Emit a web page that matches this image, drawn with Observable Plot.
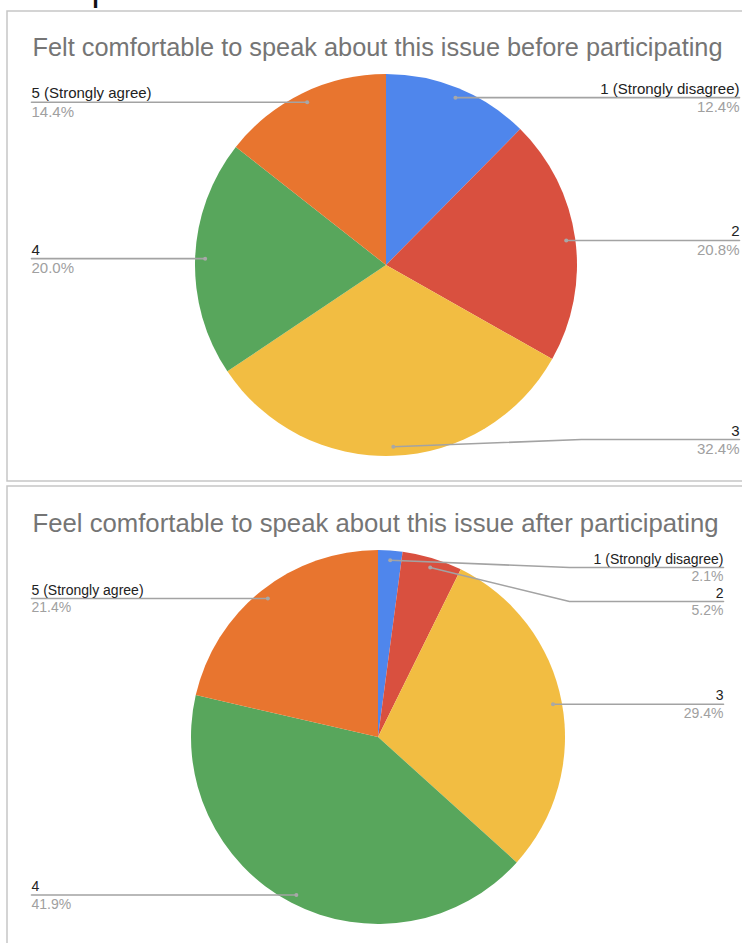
<!DOCTYPE html>
<html><head><meta charset="utf-8">
<script src="https://cdn.jsdelivr.net/npm/d3@7"></script>
<script src="https://cdn.jsdelivr.net/npm/@observablehq/plot@0.6"></script>
<style>html,body{margin:0;padding:0;background:#fff;overflow:hidden} svg{display:block}</style>
</head><body><div id="chart"></div>
<script>
// ---- data ----
const categories = ["1 (Strongly disagree)", "2", "3", "4", "5 (Strongly agree)"];
const beforeValues = [12.4, 20.8, 32.4, 20.0, 14.4];
const afterValues = [2.1, 5.2, 29.4, 41.9, 21.4];
const sliceColors = ["#4f86ec", "#d9503f", "#f2bd42", "#58a65c", "#e8752f"];
const panelTitles = [
  "Felt comfortable to speak about this issue before participating",
  "Feel comfortable to speak about this issue after participating"
];

// ---- layout ----
const W = 742, H = 943;
const panels = [
  {title: panelTitles[0], values: beforeValues, cx: 386, cy: 265, r: 191, top: 11, bottom: 481,
   titleY: 55, titleW: 690, labelL: 31, labelR: 739, minY: 90, maxY: 439, fs: 15},
  {title: panelTitles[1], values: afterValues, cx: 378, cy: 737, r: 187, top: 486, bottom: 950,
   titleY: 531, titleW: 686, labelL: 31, labelR: 723, minY: 567, maxY: 900, fs: 14}
];

const slices = [], labels = [], leaders = [];
panels.forEach((p, pi) => {
  const arcs = d3.pie().sort(null).value(d => d)(p.values);
  const side = {left: [], right: []};
  arcs.forEach((a, i) => {
    const mid = (a.startAngle + a.endAngle) / 2;
    slices.push({panel: pi, i, cx: p.cx, cy: p.cy, r: p.r, start: a.startAngle, end: a.endAngle});
    const lab = {panel: pi, i, name: categories[i], pct: p.values[i].toFixed(1) + "%",
      side: mid < Math.PI ? "right" : "left",
      dotX: p.cx + 0.95 * p.r * Math.sin(mid), dotY: p.cy - 0.95 * p.r * Math.cos(mid)};
    side[lab.side].push(lab);
    labels.push(lab);
  });
  for (const s of ["left", "right"]) {
    const arr = side[s].sort((a, b) => a.dotY - b.dotY);
    let prev = -Infinity;
    arr.forEach(l => { l.y = Math.max(l.dotY, prev + 34, p.minY); prev = l.y; });
    let next = Infinity;
    for (let k = arr.length - 1; k >= 0; k--) { arr[k].y = Math.min(arr[k].y, next - 34, p.maxY); next = arr[k].y; }
    arr.forEach(l => {
      l.tx = s === "right" ? p.labelR : p.labelL;
      const ex = s === "right" ? p.cx + p.r + 4 : p.cx - p.r - 4;
      const id = pi + "-" + l.i;
      leaders.push({id, x: l.dotX, y: l.dotY});
      leaders.push({id, x: ex, y: l.y});
      leaders.push({id, x: l.tx, y: l.y});
    });
  }
});

function pieMark(data) {
  return (index, scales) => {
    const sx = scales.x, sy = scales.y;
    const g = d3.create("svg:g");
    for (const s of data) {
      const cx = sx(s.cx), cy = sy(s.cy), r = sx(s.cx + s.r) - cx;
      g.append("path")
        .attr("transform", `translate(${cx},${cy})`)
        .attr("d", d3.arc()({innerRadius: 0, outerRadius: r, startAngle: s.start, endAngle: s.end}))
        .attr("fill", sliceColors[s.i]);
    }
    return g.node();
  };
}

function labelMarks(data, anchor, fs) {
  return [
    Plot.text(data, {x: "tx", y: d => d.y - 4, text: "name", fontSize: fs, fill: "#222",
      textAnchor: anchor, lineAnchor: "bottom"}),
    Plot.text(data, {x: "tx", y: d => d.y + fs - 0.5, text: "pct", fontSize: fs, fill: "#a0a0a0",
      textAnchor: anchor, lineAnchor: "bottom"})
  ];
}
const labelLayers = [];
panels.forEach((p, pi) => {
  labelLayers.push(...labelMarks(labels.filter(d => d.panel === pi && d.side === "right"), "end", p.fs));
  labelLayers.push(...labelMarks(labels.filter(d => d.panel === pi && d.side === "left"), "start", p.fs));
});

const plot = Plot.plot({
  width: W, height: H, margin: 0,
  x: {domain: [0, W], range: [0, W], axis: null},
  y: {domain: [0, H], range: [0, H], axis: null},
  style: {fontFamily: "'Liberation Sans', Arial, sans-serif", background: "#fff"},
  marks: [
    Plot.rect(panels, {x1: 7, x2: W + 3, y1: "top", y2: "bottom", fill: "none", stroke: "#c6c6c6", strokeWidth: 1.5}),
    Plot.text(["p"], {x: 91, y: -1, text: d => d, fontSize: 36, fill: "#111", textAnchor: "start", lineAnchor: "bottom"}),
    Plot.text(panels, {x: 32, y: "titleY", text: "title", fontSize: 25, fill: "#757575", textAnchor: "start", lineAnchor: "bottom"}),
    pieMark(slices),
    Plot.line(leaders, {x: "x", y: "y", z: "id", stroke: "#a3a3a3", strokeWidth: 1.6, curve: "linear"}),
    Plot.dot(labels, {x: "dotX", y: "dotY", r: 2, fill: "#a8a8a8"}),
    ...labelLayers
  ]
});

d3.select(plot).selectAll("text").each(function() {
  const t = this.textContent;
  const p = panels.find(q => q.title === t);
  if (p) { this.setAttribute("textLength", p.titleW); this.setAttribute("lengthAdjust", "spacingAndGlyphs"); }
});
document.getElementById("chart").appendChild(plot);
</script>
</body></html>
